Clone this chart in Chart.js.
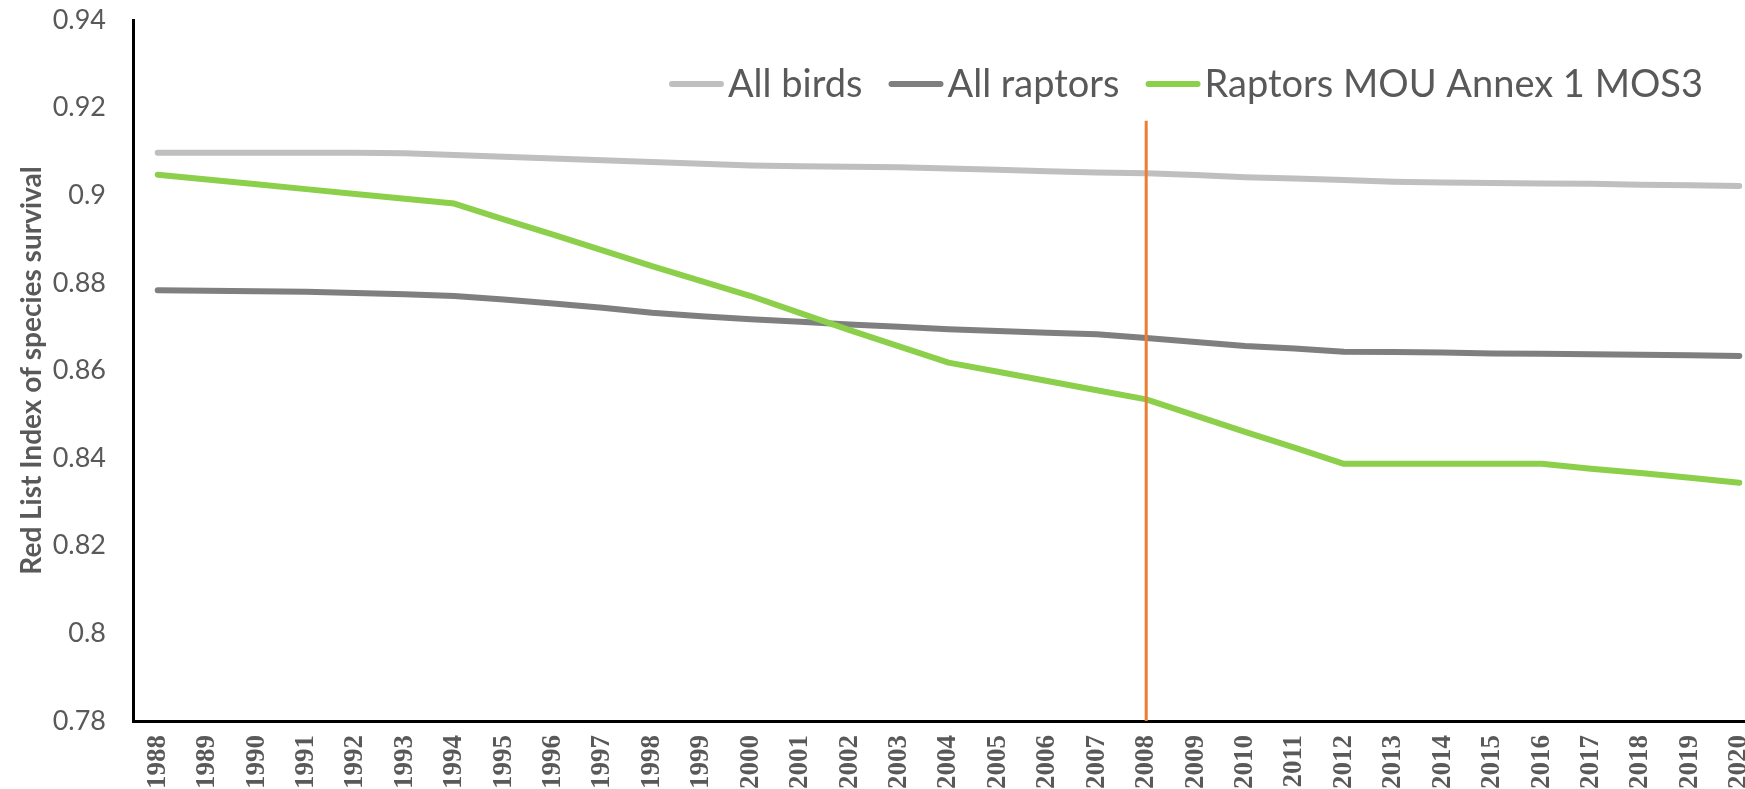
<!DOCTYPE html>
<html><head><meta charset="utf-8">
<script src="https://cdn.jsdelivr.net/npm/chart.js@4"></script>
<style>html,body{margin:0;padding:0;background:#fff;overflow:hidden}#wrap{width:1770px;height:789px;position:relative}</style>
</head><body><div id="wrap"><canvas id="c"></canvas></div>
<script>
const years = ['1988','1989','1990','1991','1992','1993','1994','1995','1996','1997','1998','1999','2000','2001','2002','2003','2004','2005','2006','2007','2008','2009','2010','2011','2012','2013','2014','2015','2016','2017','2018','2019','2020'];
const allBirds = [0.9097,0.9097,0.9097,0.9097,0.9097,0.9096,0.9092,0.9088,0.9084,0.9080,0.9076,0.9072,0.9068,0.9066,0.9065,0.9064,0.9061,0.9058,0.9055,0.9052,0.9050,0.9046,0.9041,0.9038,0.9035,0.9031,0.9029,0.9028,0.9027,0.9026,0.9024,0.9023,0.9021];
const allRaptors = [0.8783,0.8782,0.8781,0.8780,0.8777,0.8774,0.8770,0.8762,0.8753,0.8743,0.8732,0.8724,0.8717,0.8711,0.8705,0.8700,0.8694,0.8690,0.8686,0.8683,0.8674,0.8665,0.8656,0.8650,0.8643,0.8642,0.8641,0.8639,0.8638,0.8637,0.8636,0.8635,0.8633];
const raptorsMOU = [0.9047,0.9036,0.9025,0.9014,0.9003,0.8992,0.8981,0.8945,0.8910,0.8874,0.8838,0.8804,0.8770,0.8731,0.8692,0.8655,0.8618,0.8597,0.8576,0.8555,0.8534,0.8497,0.8460,0.8424,0.8387,0.8387,0.8387,0.8387,0.8387,0.8376,0.8366,0.8355,0.8344];
const seriesLabels = ['All birds','All raptors','Raptors MOU Annex 1 MOS3'];
const markerYear = '2008';
const markerRange = [0.78, 0.917];
const yMin = 0.78, yMax = 0.94, yStep = 0.02;
const axisTitle = 'Red List Index of species survival';

const legendPlugin = {
  id: 'topLegend',
  afterDraw(chart) {
    const ctx = chart.ctx;
    const items = seriesLabels.map(l => chart.data.datasets.find(d => d.label === l));
    ctx.save();
    ctx.font = '38px Lato';
    ctx.textBaseline = 'middle';
    ctx.textAlign = 'left';
    const sw = 55, gap = 4, itemGap = 26;
    const widths = items.map(d => ctx.measureText(d.label).width);
    let total = 0;
    widths.forEach(w => total += sw + gap + w);
    total += itemGap * (items.length - 1);
    let x = 1703 - total;
    const y = 84;
    items.forEach((d, i) => {
      ctx.strokeStyle = d.borderColor;
      ctx.lineWidth = 6;
      ctx.lineCap = 'round';
      ctx.beginPath();
      ctx.moveTo(x + 3, y);
      ctx.lineTo(x + sw - 3, y);
      ctx.stroke();
      x += sw + gap;
      ctx.fillStyle = '#595959';
      ctx.fillText(d.label, x, y + 1);
      x += widths[i] + itemGap;
    });
    ctx.restore();
  }
};

function zeroPad(s) { s.paddingTop = 0; s.paddingBottom = 0; s.paddingLeft = 0; s.paddingRight = 0; }

function build() {
  new Chart(document.getElementById('c'), {
    type: 'line',
    data: {
      labels: years,
      datasets: [
        {label: 'marker', data: [{x: markerYear, y: markerRange[0]}, {x: markerYear, y: markerRange[1]}], borderColor: '#ED7D31', backgroundColor: '#ED7D31', borderWidth: 3, borderCapStyle: 'butt', order: 0},
        {label: seriesLabels[2], data: raptorsMOU, borderColor: '#8CCF4A', backgroundColor: '#8CCF4A', borderWidth: 6, order: 1},
        {label: seriesLabels[1], data: allRaptors, borderColor: '#7F7F7F', backgroundColor: '#7F7F7F', borderWidth: 6, order: 2},
        {label: seriesLabels[0], data: allBirds, borderColor: '#BFBFBF', backgroundColor: '#BFBFBF', borderWidth: 6, order: 3}
      ]
    },
    options: {
      responsive: true, maintainAspectRatio: false, animation: false,
      layout: {padding: {top: 20, right: 6, left: 0, bottom: 0}},
      plugins: {legend: {display: false}, tooltip: {enabled: false}},
      elements: {point: {radius: 0, hoverRadius: 0}, line: {tension: 0, borderCapStyle: 'round', borderJoinStyle: 'round'}},
      scales: {
        x: {
          type: 'category', offset: true,
          grid: {display: false, drawTicks: false},
          border: {display: true, color: '#000', width: 3},
          ticks: {autoSkip: false, maxRotation: 90, minRotation: 90, padding: 14, color: '#595959', font: {family: 'Liberation Serif', weight: 'bold', size: 27}},
          afterFit(s) { s.height = 68; zeroPad(s); }
        },
        y: {
          min: yMin, max: yMax,
          grid: {display: false, drawTicks: false},
          border: {display: true, color: '#000', width: 3},
          ticks: {stepSize: yStep, padding: 27, color: '#595959', font: {family: 'Lato', size: 27}, callback: v => String(+(+v).toFixed(2))},
          title: {display: true, text: axisTitle, color: '#595959', font: {family: 'Lato', weight: 'bold', size: 28}, padding: {top: 15, bottom: 0}},
          afterFit(s) { s.width = 133; zeroPad(s); }
        }
      }
    },
    plugins: [legendPlugin]
  });
}
Promise.all([document.fonts.load('38px Lato'), document.fonts.load('bold 28px Lato'), document.fonts.load('bold 27px "Liberation Serif"')]).then(build, build);
</script>
</body></html>
